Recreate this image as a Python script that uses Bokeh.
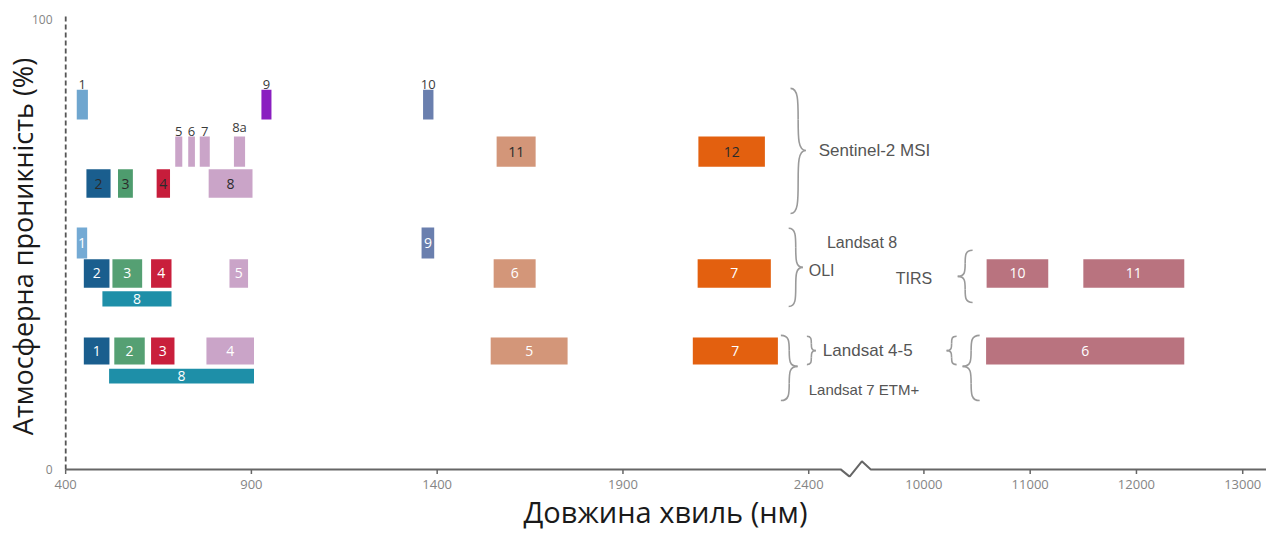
import numpy as np
from bokeh.plotting import figure
from bokeh.models import ColumnDataSource, FixedTicker
from bokeh.core.properties import value
from bokeh.embed import file_html
from bokeh.resources import INLINE

# ---------------- data (wavelengths in nm) ----------------
# Sentinel-2 MSI
s2_band  = ["1", "2", "3", "4", "5", "6", "7", "8", "8a", "9", "10", "11", "12"]
s2_start = [430, 456, 541, 645, 695, 730, 761, 785, 853, 927, 1362, 1560, 2103]
s2_end   = [460, 521, 581, 681, 714, 748, 788, 903, 883, 954, 1390, 1665, 2282]
s2_row   = ["a", "c", "c", "c", "b", "b", "b", "c", "b", "a", "a", "b", "b"]
s2_color = ["#6fa6cf", "#1a5e8e", "#4e9c6e", "#c71d3b", "#caa4c8", "#caa4c8", "#caa4c8",
            "#caa4c8", "#caa4c8", "#8a1fc0", "#6a7fae", "#d39679", "#e3600f"]

# Landsat 8 OLI / TIRS
l8_band  = ["1", "2", "3", "4", "5", "6", "7", "8", "9", "10", "11"]
l8_start = [430, 449, 526, 630, 841, 1552, 2101, 499, 1358, 10590, 11500]
l8_end   = [458, 518, 606, 685, 891, 1665, 2298, 685, 1392, 11170, 12450]
l8_row   = ["a", "b", "b", "b", "b", "b", "b", "p", "a", "b", "b"]
l8_color = ["#74aad4", "#1a5e8e", "#55a073", "#c91f3c", "#caa4c8", "#d39679", "#e3600f",
            "#1e8fa8", "#6a7fae", "#b9737f", "#b9737f"]

# Landsat 4-5 / Landsat 7 ETM+
l7_band  = ["1", "2", "3", "4", "5", "7", "6", "8"]
l7_start = [449, 531, 630, 779, 1544, 2088, 10585, 517]
l7_end   = [518, 613, 693, 907, 1751, 2317, 12450, 907]
l7_row   = ["r", "r", "r", "r", "r", "r", "r", "p"]
l7_color = ["#1a5e8e", "#55a073", "#c91f3c", "#caa4c8", "#d39679", "#e3600f", "#b9737f", "#1e8fa8"]

# x tick labels (nm)
x_ticks = [400, 900, 1400, 1900, 2400, 10000, 11000, 12000, 13000]
y_ticks = [0, 100]

# ---------------- layout (row bands, in % units) ----------------
s2_rows = {"a": (77.8, 84.4), "b": (67.3, 74.0), "c": (60.4, 66.7)}
l8_rows = {"a": (46.9, 53.8), "b": (40.4, 46.7), "p": (36.2, 39.6)}
l7_rows = {"r": (23.3, 29.3), "p": (19.1, 22.4)}

BREAK_OFFSET = 2710      # plot position of 10000 nm
TIR_SCALE = 0.286        # plot units per nm beyond the break


def to_plot(w):
    w = np.asarray(w, dtype=float)
    return np.where(w <= 2400, w, BREAK_OFFSET + (w - 10000) * TIR_SCALE)


X_START, X_END = 397, 3632
Y_START, Y_END = -1.8, 100.9

p = figure(width=1266, height=533, x_range=(X_START, X_END), y_range=(Y_START, Y_END),
           output_backend="svg", toolbar_location=None,
           min_border_left=64, min_border_right=0, min_border_top=15, min_border_bottom=30)
p.outline_line_color = None
p.xgrid.visible = False
p.ygrid.visible = False
p.background_fill_color = "white"

FONT = value("Open Sans")


def add_sensor(bands, starts, ends, rows, colors, rowmap, inside_color, above_rule):
    left = to_plot(starts)
    right = to_plot(ends)
    bottom = [rowmap[r][0] for r in rows]
    top = [rowmap[r][1] for r in rows]
    src = ColumnDataSource(dict(left=left, right=right, bottom=bottom, top=top, color=colors))
    p.quad(left="left", right="right", bottom="bottom", top="top", fill_color="color",
           line_color=None, source=src)
    ins = dict(x=[], y=[], t=[])
    abv = dict(x=[], y=[], t=[])
    for b, l, r, lo, hi in zip(bands, left, right, bottom, top):
        if above_rule and (r - l) < 33:
            abv["x"].append((l + r) / 2); abv["y"].append(hi); abv["t"].append(b)
        else:
            ins["x"].append((l + r) / 2); ins["y"].append((lo + hi) / 2); ins["t"].append(b)
    p.text(x="x", y="y", text="t", source=ColumnDataSource(ins), text_align="center",
           text_baseline="middle", text_font=FONT, text_font_size="14px",
           text_color=inside_color)
    if abv["x"]:
        p.text(x="x", y="y", text="t", source=ColumnDataSource(abv), text_align="center",
               text_baseline="bottom", y_offset=-1, text_font=FONT, text_font_size="13px",
               text_color="#3a3a3a")


add_sensor(s2_band, s2_start, s2_end, s2_row, s2_color, s2_rows, "#2b2b2b", True)
add_sensor(l8_band, l8_start, l8_end, l8_row, l8_color, l8_rows, "#ffffff", False)
add_sensor(l7_band, l7_start, l7_end, l7_row, l7_color, l7_rows, "#ffffff", False)

# ---------------- braces ----------------
# (x of ends, x of tip, y top, y bottom, y tip)
braces = [
    (2351, 2392, 84.7, 56.9, 70.9),
    (2346, 2384, 53.6, 36.2, 44.9),
    (2841, 2801, 48.7, 37.1, 42.9),
    (2395, 2419, 29.6, 23.3, 26.4),
    (2325, 2370, 29.8, 15.3, 22.9),
    (2798, 2771, 29.6, 23.3, 26.4),
    (2860, 2814, 29.8, 15.3, 22.9),
]
bz = dict(x0=[], y0=[], x1=[], y1=[], cx0=[], cy0=[], cx1=[], cy1=[])


def add_curve(a, c0, c1, b):
    bz["x0"].append(a[0]); bz["y0"].append(a[1])
    bz["cx0"].append(c0[0]); bz["cy0"].append(c0[1])
    bz["cx1"].append(c1[0]); bz["cy1"].append(c1[1])
    bz["x1"].append(b[0]); bz["y1"].append(b[1])


for xb, xt, yt, yb, ym in braces:
    xm = (xb + xt) / 2
    for ye in (yt, yb):
        h = ym - ye
        add_curve((xb, ye), (xm, ye), (xm, ye + 0.2 * h), (xm, ye + 0.5 * h))
        add_curve((xm, ye + 0.5 * h), (xm, ye + 0.8 * h), (xm, ym), (xt, ym))

p.bezier(x0="x0", y0="y0", x1="x1", y1="y1", cx0="cx0", cy0="cy0", cx1="cx1", cy1="cy1",
         source=ColumnDataSource(bz), line_color="#9a9a9a", line_width=1.6)

sens_txt = dict(
    x=[2427, 2449, 2400, 2634, 2438, 2400],
    y=[70.9, 50.4, 44.2, 42.4, 26.4, 17.8],
    t=["Sentinel-2 MSI", "Landsat 8", "OLI", "TIRS", "Landsat 4-5", "Landsat 7 ETM+"],
    s=["17px", "16px", "16px", "16px", "17px", "15px"],
)
p.text(x="x", y="y", text="t", text_font_size="s", source=ColumnDataSource(sens_txt),
       text_align="left", text_baseline="middle", text_font=value("Liberation Sans"),
       text_color="#555555")

# ---------------- axes ----------------
tick_pos = [int(round(float(v))) for v in to_plot(x_ticks)]
p.xaxis.ticker = FixedTicker(ticks=tick_pos)
p.xaxis.major_label_overrides = {tp: str(t) for tp, t in zip(tick_pos, x_ticks)}
p.xaxis.axis_line_color = None
p.xaxis.major_tick_line_color = None
p.xaxis.minor_tick_line_color = None
p.xaxis.major_tick_out = 0
p.xaxis.major_tick_in = 0
p.xaxis.minor_tick_out = 0
p.xaxis.major_label_standoff = 2
p.xaxis.major_label_text_font = "Open Sans"
p.xaxis.major_label_text_font_size = "13px"
p.xaxis.major_label_text_color = "#858585"
p.xaxis.axis_label = "Довжина хвиль (нм)"
p.xaxis.axis_label_standoff = 0
p.xaxis.axis_label_text_font = "Open Sans"
p.xaxis.axis_label_text_font_size = "29px"
p.xaxis.axis_label_text_font_style = "normal"
p.xaxis.axis_label_text_color = "#1a1a1a"

p.yaxis.ticker = FixedTicker(ticks=y_ticks)
p.yaxis.axis_line_color = None
p.yaxis.major_tick_line_color = None
p.yaxis.minor_tick_line_color = None
p.yaxis.major_tick_out = 0
p.yaxis.major_tick_in = 0
p.yaxis.minor_tick_out = 0
p.yaxis.major_label_standoff = 12
p.yaxis.major_label_text_font = "Open Sans"
p.yaxis.major_label_text_font_size = "12px"
p.yaxis.major_label_text_color = "#858585"
p.yaxis.axis_label = "Атмосферна проникність (%)"
p.yaxis.axis_label_standoff = -12
p.yaxis.axis_label_text_font = "Open Sans"
p.yaxis.axis_label_text_font_size = "27px"
p.yaxis.axis_label_text_font_style = "normal"
p.yaxis.axis_label_text_color = "#1a1a1a"

# dashed y axis line drawn at 400 nm from 0 to top
p.segment(x0=[400], y0=[0], x1=[400], y1=[Y_END], line_color="#555555", line_width=2,
          line_dash="5 3")

# x baseline with axis break (zig-zag)
brk = [2486, 2510, 2543, 2567]
p.line(x=[400, brk[0], brk[1], brk[2], brk[3], X_END], y=[0, 0, -1.6, 1.8, 0, 0],
       line_color="#666666", line_width=2)
# tick marks
p.segment(x0=tick_pos, y0=[0] * len(tick_pos), x1=tick_pos, y1=[-1.0] * len(tick_pos),
          line_color="#666666", line_width=1.5)

open("out.html", "w").write(file_html(p, INLINE))
